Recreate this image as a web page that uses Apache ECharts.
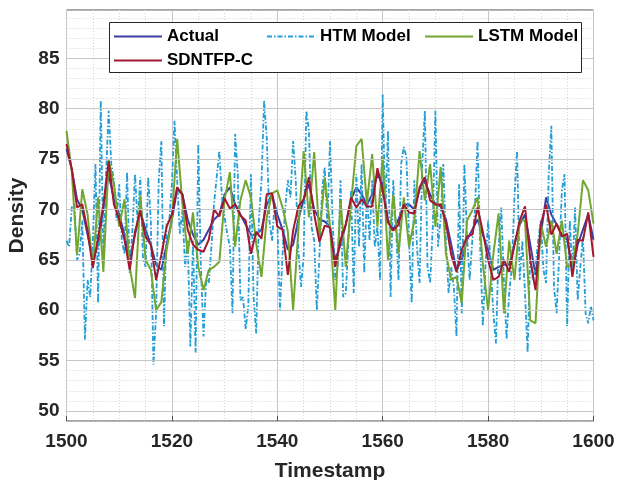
<!DOCTYPE html>
<html>
<head>
<meta charset="utf-8">
<script src="https://cdn.jsdelivr.net/npm/echarts@6/dist/echarts.min.js"></script>
<style>
  html, body { margin: 0; padding: 0; background: #ffffff; }
  #chart { width: 618px; height: 480px; }
</style>
</head>
<body>
<div id="chart"></div>
<script>
// Timestamps 1500..1600, one value per step (HTM model sampled every half step)
const startStamp = 1500;

const actual = [
  76, 74, 71, 70, 67.5, 65, 66.5, 70, 73.5, 71,
  69.5, 67.5, 65, 67.5, 69.8, 68, 66.5, 64.5, 64, 66.5,
  69, 72, 71.5, 69, 67.5, 66.5, 67, 68, 69, 69.5,
  71.5, 72.2, 70.5, 69.5, 68.5, 67.5, 67.5, 68, 70.5, 71.5,
  69.5, 68, 66, 66.5, 69, 71, 72.5, 70, 69, 68.8,
  68.3, 65, 66.5, 68.5, 71, 72.2, 71.5, 70.5, 71.5, 73.5,
  72.5, 69, 68, 69, 70.5, 70.5, 70, 72, 72.8, 71.5,
  70.5, 70.3, 69, 66.5, 64, 65, 67, 68, 69, 67.5,
  66, 64, 64.3, 64.5, 64.5, 66.5, 68.5, 69.5, 66.5, 63.5,
  67.5, 71.2, 69.5, 68.5, 67.5, 67, 64, 66.5, 68, 69.5,
  67
];

const sdntfpC = [
  76.5, 74, 70.2, 70.5, 67.9, 64.2, 67.2, 70.5, 74.8, 70.5,
  69, 67, 64, 67.8, 69.9, 67.3, 66.5, 63, 65.5, 68.3,
  69.5, 72.2, 71.5, 68, 66.5, 66, 65.8, 67, 70, 69.3,
  71.1, 70.1, 70.5, 69.4, 68.9, 65.6, 67.8, 67.1, 71.5, 71.6,
  68.3, 68, 63.5, 67.9, 70.3, 71, 73.2, 69.5, 66.8, 68.4,
  68.2, 64.3, 67, 68.5, 71.2, 70.2, 71, 70.3, 70.3, 74.1,
  71.9, 68.7, 67.9, 68.5, 70.5, 69.7, 69.6, 72.2, 73.2, 70.9,
  70.5, 70.5, 68.7, 65.5, 63.8, 66, 67.3, 67.5, 70.2, 67.8,
  65, 63, 63.3, 65, 63.8, 66.5, 68.9, 70.3, 65, 62,
  68.5, 70.5, 67.5, 68.6, 67.3, 67.6, 63.3, 67, 66.9, 69.7,
  65.3
];

const lstm = [
  77.8, 73.8, 65.5, 72, 69.5, 64.3, 71.2, 63.8, 74.9, 72.5,
  68.3, 71, 64.3, 61.2, 71.4, 65, 64, 60, 60.8, 66,
  69, 77, 70.5, 65.6, 69.7, 64.3, 62, 64, 64.3, 64.8,
  71, 73.7, 66.3, 70.9, 72.9, 71.2, 66.6, 63.3, 69.2, 71.6,
  71.9, 70.2, 67.8, 60, 68, 75.8, 69.2, 75.7, 67.3, 73.2,
  68.3, 60, 70.9, 64.3, 70.6, 76.3, 77, 70.6, 75.5, 68.3,
  75.2, 65, 71.5, 65.6, 71.2, 66.3, 68.9, 75.8, 70.9, 74.5,
  68.3, 74.2, 65.6, 63, 63.3, 60.7, 68.9, 69.9, 71.2, 64.6,
  60, 65.6, 69.6, 59.7, 66.9, 63, 68.9, 68.9, 59, 58.7,
  68.6, 66.3, 68.9, 65.6, 68.9, 64.3, 64.6, 67.6, 72.9, 71.9,
  68.6
];

const htm = [
  66.9, 66.3, 70.2, 70.6, 65.0, 65.6, 68.9, 57.1, 63.0, 61.3,
  66.9, 74.5, 60.7, 80.8, 65.0, 73.5, 79.8, 74.5, 72.9, 68.9,
  72.5, 66.9, 65.6, 73.7, 63.7, 67.9, 73.5, 68.6, 73.2, 65.3,
  64.3, 73.2, 68.9, 54.6, 59.7, 72.9, 76.8, 58.4, 68.6, 68.9,
  72.5, 78.8, 72.9, 67.6, 69.9, 64.3, 66.9, 56.4, 66.9, 55.8,
  76.5, 64.3, 57.4, 63.0, 62.7, 66.3, 70.6, 73.2, 75.8, 71.2,
  69.2, 67.6, 66.3, 59.7, 77.5, 73.5, 61.0, 61.3, 58.1, 60.4,
  73.5, 61.3, 57.7, 68.9, 72.9, 80.8, 77.1, 68.9, 66.9, 70.6,
  68.9, 60.0, 65.6, 70.2, 72.9, 71.2, 76.8, 72.9, 66.0, 62.3,
  65.3, 79.8, 77.8, 68.3, 66.9, 60.0, 65.6, 71.9, 74.2, 68.3,
  76.8,
  68.9, 63.0, 64.3, 72.9, 61.3, 61.7, 66.9, 71.9, 61.7, 73.5,
  66.3, 74.5, 63.7, 71.9, 66.9, 72.9, 66.3, 68.3, 63.0, 81.4,
  69.6, 77.8, 61.3, 72.9, 68.3, 63.0, 74.5, 76.2, 75.2, 66.9,
  60.7, 72.9, 66.3, 62.7, 74.5, 79.8, 64.3, 62.7, 68.3, 79.8,
  66.3, 69.2, 74.5, 66.9, 61.7, 64.3, 62.3, 57.4, 72.5, 59.7,
  74.5, 67.3, 63.0, 66.9, 69.9, 76.8, 66.3, 58.4, 64.3, 68.9,
  64.3, 59.7, 56.7, 66.3, 70.2, 63.0, 57.1, 61.7, 64.3, 71.2,
  75.8, 63.0, 66.9, 61.7, 55.8, 65.6, 63.0, 64.3, 66.9, 68.9,
  64.0, 62.7, 73.5, 78.3, 62.3, 59.7, 65.6, 71.9, 73.5, 58.4,
  68.9, 63.7, 70.2, 61.0, 64.3, 67.3, 59.7, 58.7, 60.4, 59.0
];

// Axis layout values
const xRange = [1500, 1600];
const xStep = 20;
const yRange = [49, 89.8];
const yMajor = [50, 55, 60, 65, 70, 75, 80, 85];

const seriesNames = ['Actual', 'HTM Model', 'LSTM Model', 'SDNTFP-C'];
const seriesColors = ['#3a3fa6', '#229dd6', '#72a62f', '#a3182f'];

const toPairs = (arr, step) => arr.map((v, i) => [startStamp + i * step, v]);

const fontFamily = '"Liberation Sans", Arial, Helvetica, sans-serif';
const textColor = '#262626';

const chart = echarts.init(document.getElementById('chart'), null, { renderer: 'canvas' });

const legendBase = {
  orient: 'horizontal',
  padding: 0,
  itemWidth: 48,
  itemHeight: 14,
  z: 10,
  selectedMode: false,
  itemStyle: { opacity: 0 },
  textStyle: { fontFamily, fontWeight: 'bold', fontSize: 17, color: '#000' }
};

chart.setOption({
  animation: false,
  backgroundColor: '#ffffff',
  grid: {
    left: 66.5, right: 24.5, top: 10, bottom: 59,
    outerBoundsMode: 'none',
    containLabel: false,
    show: true, borderColor: '#4d4d4d', borderWidth: 1,
    backgroundColor: 'transparent'
  },
  graphic: [{
    type: 'rect',
    z: 8,
    shape: { x: 109.5, y: 22.5, width: 472, height: 50 },
    style: { fill: '#ffffff', stroke: '#262626', lineWidth: 1 }
  }],
  legend: [
    Object.assign({}, legendBase, { data: [seriesNames[0]], left: 113, top: 28 }),
    Object.assign({}, legendBase, { data: [seriesNames[1]], left: 266, top: 28 }),
    Object.assign({}, legendBase, { data: [seriesNames[2]], left: 424, top: 28 }),
    Object.assign({}, legendBase, { data: [seriesNames[3]], left: 113, top: 52 })
  ],
  xAxis: {
    type: 'value',
    min: xRange[0], max: xRange[1], interval: xStep,
    name: 'Timestamp', nameLocation: 'middle', nameGap: 40,
    nameTextStyle: { fontFamily, fontWeight: 'bold', fontSize: 21, color: textColor },
    axisLine: { show: false },
    axisTick: { show: true, inside: true, length: 5, lineStyle: { color: '#4d4d4d' } },
    axisLabel: {
      fontFamily, fontWeight: 'bold', fontSize: 19, color: textColor, margin: 11,
      formatter: v => String(v)
    },
    splitLine: { show: true, lineStyle: { color: '#c6c6c6', width: 1 } },
    minorTick: { show: false, splitNumber: 4 },
    minorSplitLine: { show: true, lineStyle: { color: '#d4d4d4', width: 1, type: [1, 2] } }
  },
  yAxis: {
    type: 'value',
    min: yRange[0], max: yRange[1], interval: 1,
    name: 'Density', nameLocation: 'middle', nameGap: 29,
    nameTextStyle: { fontFamily, fontWeight: 'bold', fontSize: 21, color: textColor },
    axisLine: { show: false },
    axisTick: { show: false },
    axisLabel: {
      fontFamily, fontWeight: 'bold', fontSize: 19, color: textColor, margin: 7,
      formatter: v => (yMajor.indexOf(v) >= 0 ? String(v) : '')
    },
    splitLine: { show: true, lineStyle: { color: '#d4d4d4', width: 1, type: [1, 2] } }
  },
  series: [
    {
      name: 'major-grid', type: 'line', data: [], silent: true, z: 1,
      markLine: {
        silent: true, symbol: ['none', 'none'], label: { show: false },
        lineStyle: { color: '#c6c6c6', width: 1, type: 'solid' },
        data: yMajor.map(v => ({ yAxis: v }))
      }
    },
    {
      name: seriesNames[0], type: 'line', data: toPairs(actual, 1),
      showSymbol: false, symbol: 'none', z: 2,
      itemStyle: { color: seriesColors[0] },
      lineStyle: { color: seriesColors[0], width: 2 }
    },
    {
      name: seriesNames[1], type: 'line', data: toPairs(htm, 0.5),
      showSymbol: false, symbol: 'none', z: 2,
      itemStyle: { color: seriesColors[1] },
      lineStyle: { color: seriesColors[1], width: 1.8, type: [5, 2, 1.5, 2] }
    },
    {
      name: seriesNames[2], type: 'line', data: toPairs(lstm, 1),
      showSymbol: false, symbol: 'none', z: 2,
      itemStyle: { color: seriesColors[2] },
      lineStyle: { color: seriesColors[2], width: 2 }
    },
    {
      name: seriesNames[3], type: 'line', data: toPairs(sdntfpC, 1),
      showSymbol: false, symbol: 'none', z: 2,
      itemStyle: { color: seriesColors[3] },
      lineStyle: { color: seriesColors[3], width: 2 }
    }
  ]
});
</script>
</body>
</html>
